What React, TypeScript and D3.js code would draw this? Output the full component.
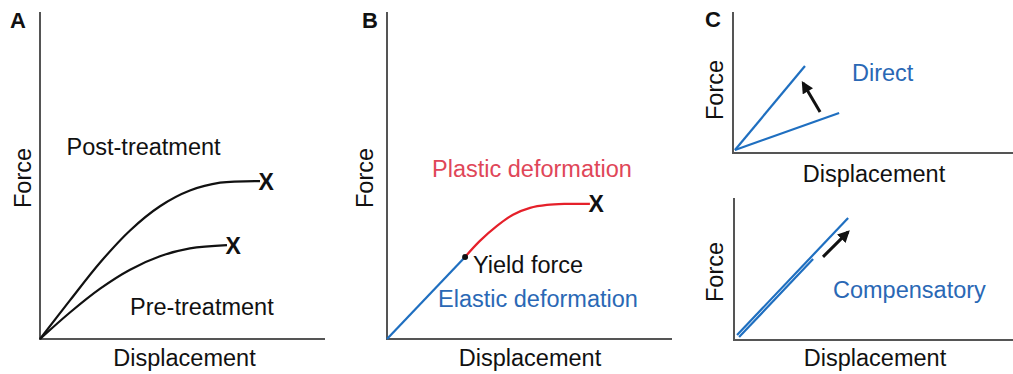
import React from "react";
import * as d3 from "d3";

type P = [number, number];

// Panel A
const postTreatment: P[] = [[0, 0], [10.5, 11.8], [21.1, 23.4], [31.6, 33.2], [42.1, 40.6], [52.6, 45.4], [63.2, 47.8], [77.2, 48.3]];
const preTreatment: P[] = [[0, 0], [10.5, 8.1], [21.1, 15.4], [31.6, 21.2], [42.1, 25.3], [52.6, 27.7], [65.6, 28.7]];
// Panel B
const elastic: P[] = [[0, 0], [27.4, 25.1]];
const plastic: P[] = [[27.4, 25.1], [32.6, 30], [38.6, 34.6], [44.2, 38], [50.2, 40.1], [56.1, 41], [62.5, 41.3], [71.2, 41.3]];
const yieldPoint: P = [27.4, 25.1];
// Panel C top
const directBefore: P[] = [[0.7, 2.1], [37.9, 28.4]];
const directAfter: P[] = [[0.7, 2.1], [25.7, 61.7]];
const directArrow: P[] = [[31.1, 29.1], [25, 49.6]];
// Panel C bottom
const compBefore: P[] = [[1.83, 2.1], [28.35, 57.0]];
const compAfter: P[] = [[1.1, 3.5], [40.9, 85.9]];
const compArrow: P[] = [[31.9, 58.5], [40.9, 76.1]];

const FONT = "'Liberation Sans', Arial, Helvetica, sans-serif";
const BLUE = "#1f6fc0";
const BLUE_TEXT = "#2a68b5";
const RED = "#e5202a";
const RED_TEXT = "#e04658";
const AXIS = "#555";

function mk(x0: number, x1: number, y0: number, y1: number) {
  return {
    x: d3.scaleLinear().domain([0, 100]).range([x0, x1]),
    y: d3.scaleLinear().domain([0, 100]).range([y0, y1]),
  };
}

const sA = mk(40, 325, 339, 12);
const sB = mk(387, 672, 339, 12);
const sC1 = mk(733, 1013, 153, 12);
const sC2 = mk(734, 1013, 340, 198);

function Axes({ s }: { s: ReturnType<typeof mk> }) {
  const [x0, x1] = s.x.range();
  const [y0, y1] = s.y.range();
  return (
    <g stroke={AXIS} strokeWidth={2} fill="none">
      <line x1={x0} y1={y1} x2={x0} y2={y0 + 1} />
      <line x1={x0 - 1} y1={y0} x2={x1} y2={y0} />
    </g>
  );
}

function path(s: ReturnType<typeof mk>, pts: P[], curve: d3.CurveFactory = d3.curveCatmullRom.alpha(0.5)) {
  return d3.line<P>().x((d) => s.x(d[0])).y((d) => s.y(d[1])).curve(curve)(pts) || "";
}

const T = { fontFamily: FONT, fontSize: 23.5, fill: "#111" } as const;

function YLabel({ x, y }: { x: number; y: number }) {
  return (
    <text {...T} textAnchor="middle" transform={`translate(${x},${y}) rotate(-90)`}>
      Force
    </text>
  );
}

function XMark({ s, p }: { s: ReturnType<typeof mk>; p: P }) {
  return (
    <text x={s.x(p[0]) - 1.5} y={s.y(p[1]) + 8.5} fontFamily={FONT} fontWeight="bold" fontSize={23} fill="#111">
      X
    </text>
  );
}

export default function App() {
  const last = (a: P[]) => a[a.length - 1];
  return (
    <svg width={1013} height={374} style={{ position: "absolute", left: 0, top: 0, background: "#fff" }}>
      <defs>
        <marker id="ah" viewBox="0 0 10 10" refX="8" refY="5" markerWidth="4.2" markerHeight="4" orient="auto" markerUnits="strokeWidth">
          <path d="M0,0 L10,5 L0,10 z" fill="#111" />
        </marker>
      </defs>

      {/* Panel A */}
      <text x={10} y={28} fontFamily={FONT} fontWeight="bold" fontSize={22} fill="#111">A</text>
      <Axes s={sA} />
      <YLabel x={31} y={178} />
      <text {...T} x={184.5} y={366} textAnchor="middle">Displacement</text>
      <path d={path(sA, postTreatment)} stroke="#111" strokeWidth={2.2} fill="none" />
      <path d={path(sA, preTreatment)} stroke="#111" strokeWidth={2.2} fill="none" />
      <XMark s={sA} p={last(postTreatment)} />
      <XMark s={sA} p={last(preTreatment)} />
      <text {...T} x={66.5} y={155}>Post-treatment</text>
      <text {...T} x={130} y={315}>Pre-treatment</text>

      {/* Panel B */}
      <text x={362} y={28} fontFamily={FONT} fontWeight="bold" fontSize={22} fill="#111">B</text>
      <Axes s={sB} />
      <YLabel x={373} y={178} />
      <text {...T} x={530} y={366} textAnchor="middle">Displacement</text>
      <path d={path(sB, elastic, d3.curveLinear)} stroke={BLUE} strokeWidth={2.2} fill="none" />
      <path d={path(sB, plastic)} stroke={RED} strokeWidth={2.2} fill="none" />
      <circle cx={sB.x(yieldPoint[0])} cy={sB.y(yieldPoint[1])} r={3} fill="#111" />
      <XMark s={sB} p={last(plastic)} />
      <text {...T} x={432} y={177} fill={RED_TEXT}>Plastic deformation</text>
      <text {...T} x={473} y={273}>Yield force</text>
      <text {...T} x={438} y={307} fill={BLUE_TEXT}>Elastic deformation</text>

      {/* Panel C top */}
      <text x={705} y={27} fontFamily={FONT} fontWeight="bold" fontSize={22} fill="#111">C</text>
      <Axes s={sC1} />
      <YLabel x={723} y={90} />
      <text {...T} x={874} y={182} textAnchor="middle">Displacement</text>
      <path d={path(sC1, directBefore, d3.curveLinear)} stroke={BLUE} strokeWidth={2.2} fill="none" />
      <path d={path(sC1, directAfter, d3.curveLinear)} stroke={BLUE} strokeWidth={2.2} fill="none" />
      <path d={path(sC1, directArrow, d3.curveLinear)} stroke="#111" strokeWidth={3} fill="none" markerEnd="url(#ah)" />
      <text {...T} x={852} y={81} fill={BLUE_TEXT}>Direct</text>

      {/* Panel C bottom */}
      <Axes s={sC2} />
      <YLabel x={723} y={272} />
      <text {...T} x={875} y={366} textAnchor="middle">Displacement</text>
      <path d={path(sC2, compBefore, d3.curveLinear)} stroke={BLUE} strokeWidth={2.2} fill="none" />
      <path d={path(sC2, compAfter, d3.curveLinear)} stroke={BLUE} strokeWidth={2.2} fill="none" />
      <path d={path(sC2, compArrow, d3.curveLinear)} stroke="#111" strokeWidth={3} fill="none" markerEnd="url(#ah)" />
      <text {...T} x={833} y={298} fill={BLUE_TEXT}>Compensatory</text>
    </svg>
  );
}
